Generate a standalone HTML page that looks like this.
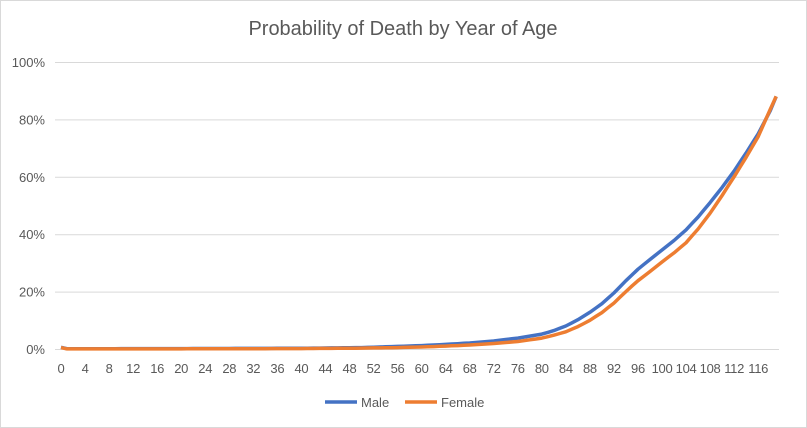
<!DOCTYPE html>
<html><head><meta charset="utf-8"><style>
body{margin:0;background:#fff}
svg{display:block;font-family:"Liberation Sans",sans-serif}
</style></head><body>
<svg id="s" width="807" height="428" xmlns="http://www.w3.org/2000/svg">
<rect x="0.5" y="0.5" width="806" height="427" fill="#fff" stroke="#d9d9d9"/>
<text x="403" y="35" text-anchor="middle" font-size="20" fill="#595959">Probability of Death by Year of Age</text>
<g id="grid" stroke="#d9d9d9" stroke-width="1"></g>
<g id="yl" font-size="13" fill="#595959" text-anchor="end"></g>
<g id="xl" font-size="13" fill="#595959" text-anchor="middle" letter-spacing="-0.3"></g>
<polyline id="m" fill="none" stroke="#4472c4" stroke-width="3.5" stroke-linejoin="round"/>
<polyline id="f" fill="none" stroke="#ed7d31" stroke-width="3.5" stroke-linejoin="round"/>
<line x1="325" y1="402" x2="357" y2="402" stroke="#4472c4" stroke-width="3.5"/>
<text x="361" y="407" font-size="13" fill="#595959">Male</text>
<line x1="405" y1="402" x2="437" y2="402" stroke="#ed7d31" stroke-width="3.5"/>
<text x="441" y="407" font-size="13" fill="#595959">Female</text>
</svg>
<script>
var ns="http://www.w3.org/2000/svg";
var y0=349,h=287,x0=61,dx=6.01;
function Y(v){return y0-v/100*h}
var g=document.getElementById('grid'),yl=document.getElementById('yl'),xl=document.getElementById('xl');
for(var i=0;i<=5;i++){var y=Y(i*20);var l=document.createElementNS(ns,'line');
l.setAttribute('x1',55);l.setAttribute('x2',779);l.setAttribute('y1',y+0.5);l.setAttribute('y2',y+0.5);g.appendChild(l);
var t=document.createElementNS(ns,'text');t.setAttribute('x',45);t.setAttribute('y',y+5);t.textContent=(i*20)+'%';yl.appendChild(t);}
for(var a=0;a<=116;a+=4){var t=document.createElementNS(ns,'text');t.setAttribute('x',x0+a*dx);t.setAttribute('y',373);t.textContent=a;xl.appendChild(t);}
var mk=[[0,0.6],[1,0.1],[20,0.15],[40,0.25],[50,0.5],[56,0.9],[60,1.2],[64,1.6],[68,2.1],[72,2.8],[76,3.8],[80,5.2],[82,6.4],[84,8],[86,10.2],[88,12.8],[90,15.8],[92,19.5],[94,23.8],[96,27.8],[98,31.2],[100,34.5],[102,37.8],[104,41.5],[106,46],[108,51],[110,56.3],[112,62],[114,68.3],[116,75],[118,83],[119,88]];
var fk=[[0,0.5],[1,0.05],[20,0.05],[40,0.15],[50,0.3],[56,0.5],[60,0.7],[64,1],[68,1.4],[72,1.9],[76,2.6],[80,3.8],[82,4.8],[84,6],[86,7.8],[88,10],[90,12.7],[92,16],[94,20],[96,23.8],[98,27],[100,30.3],[102,33.5],[104,37],[106,41.8],[108,47.3],[110,53.5],[112,60],[114,66.8],[116,74],[118,83.5],[119,88]];
function interp(k,a){for(var i=0;i<k.length-1;i++){if(a>=k[i][0]&&a<=k[i+1][0]){var t=(a-k[i][0])/(k[i+1][0]-k[i][0]);return k[i][1]+t*(k[i+1][1]-k[i][1]);}}return k[k.length-1][1];}
function pts(k){var p=[];for(var a=0;a<=119;a++)p.push((x0+a*dx).toFixed(1)+','+Y(interp(k,a)).toFixed(1));return p.join(' ');}
document.getElementById('m').setAttribute('points',pts(mk));
document.getElementById('f').setAttribute('points',pts(fk));
</script>
</body></html>
